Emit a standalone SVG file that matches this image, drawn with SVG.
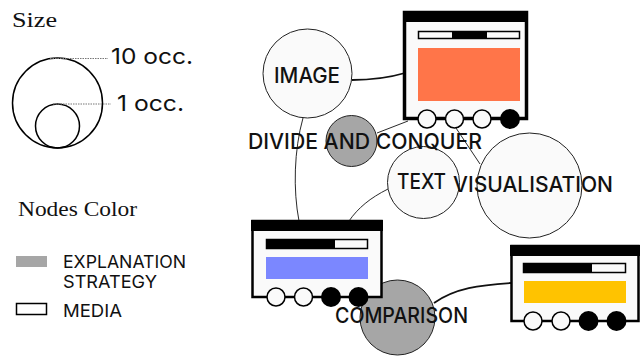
<svg xmlns="http://www.w3.org/2000/svg" width="640" height="356" viewBox="0 0 640 356">
<defs>
<style>
.serif{font-family:"Liberation Serif","DejaVu Serif",serif;fill:#111}
.sans{font-family:Inter,Roboto,"Liberation Sans",sans-serif;fill:#111}
.lbl{font-family:Inter,Roboto,"Liberation Sans",sans-serif;font-size:21px;font-weight:500;fill:#111;text-anchor:middle}
.node{fill:#fafafa;stroke:#222;stroke-width:1}
.strat{fill:#a6a6a6;stroke:#222;stroke-width:1}
.pw{fill:#fafafa;stroke:#000;stroke-width:1.5}
.db{fill:#000;stroke:#000;stroke-width:2}
.edge{fill:none;stroke:#111;stroke-width:0.9}
.edgeb{fill:none;stroke:#111;stroke-width:1.8}
.dot{stroke:#777;stroke-width:1;stroke-dasharray:1.5 1}
</style>
</defs>
<g id="legend">
<text class="serif" x="12" y="27" font-size="21" textLength="45" lengthAdjust="spacingAndGlyphs">Size</text>
<circle cx="57.5" cy="103" r="45" fill="none" stroke="#000" stroke-width="1.5"/>
<circle cx="57.5" cy="126" r="22" fill="none" stroke="#000" stroke-width="1.5"/>
<line class="dot" x1="50" y1="58.5" x2="108" y2="58.5"/>
<line class="dot" x1="53" y1="104" x2="111" y2="104"/>
<text class="sans" x="111" y="64" font-size="22" textLength="82" lengthAdjust="spacingAndGlyphs">10 occ.</text>
<text class="sans" x="117" y="111" font-size="22" textLength="67" lengthAdjust="spacingAndGlyphs">1 occ.</text>
<text class="serif" x="18" y="216" font-size="20" textLength="119" lengthAdjust="spacingAndGlyphs">Nodes Color</text>
<rect x="16" y="256" width="31" height="11" fill="#a6a6a6"/>
<text class="sans" x="63" y="268" font-size="17" textLength="123" lengthAdjust="spacingAndGlyphs">EXPLANATION</text>
<text class="sans" x="63" y="288" font-size="17" textLength="94" lengthAdjust="spacingAndGlyphs">STRATEGY</text>
<rect x="16.5" y="303.5" width="30" height="11" fill="#fff" stroke="#000" stroke-width="1.5"/>
<text class="sans" x="63" y="317" font-size="17" textLength="59" lengthAdjust="spacingAndGlyphs">MEDIA</text>
</g>
<g id="connectors">
<path class="edgeb" d="M352,80 C372,80 388,78 405,73"/>
<path class="edge" d="M303,118 C294,150 293,190 299,221"/>
<path class="edge" d="M377,133 L408,121"/>
<path class="edge" d="M456,128 L480,164"/>
<path class="edge" d="M388,189 C370,198 358,208 349,221"/>
<path class="edgeb" d="M434,303 C455,288 480,285 511,283"/>
</g>
<g id="node-image"><circle class="node" cx="307.5" cy="73.5" r="44.5"/></g>
<g id="node-divide"><circle class="strat" cx="351.5" cy="141" r="25.5"/></g>
<g id="node-text"><circle class="node" cx="423.5" cy="182.5" r="36"/></g>
<g id="node-visualisation"><circle class="node" cx="529.5" cy="185.5" r="52.5"/></g>
<g id="node-comparison"><circle class="strat" cx="397.5" cy="317.5" r="37.5"/></g>
<g id="media-orange">
<rect x="404.5" y="12.5" width="122" height="106" fill="#fafafa" stroke="#000" stroke-width="3.5"/>
<rect x="403" y="11" width="125" height="11" fill="#000"/>
<rect x="418.5" y="31.5" width="101" height="7" class="pw"/>
<rect x="452" y="31" width="35" height="8" fill="#000"/>
<rect x="418" y="48" width="102" height="53" fill="#ff7549"/>
<circle class="pw" cx="427" cy="119" r="9"/>
<circle class="pw" cx="454.5" cy="119" r="9"/>
<circle class="pw" cx="482" cy="119" r="9"/>
<circle class="db" cx="510" cy="119" r="9"/>
</g>
<g id="media-blue">
<rect x="252.5" y="221" width="129" height="76" fill="#fafafa" stroke="#000" stroke-width="2.5"/>
<rect x="251" y="220" width="132" height="11" fill="#000"/>
<rect x="266.5" y="239.5" width="101" height="9" class="pw"/>
<rect x="266" y="239" width="69" height="10" fill="#000"/>
<rect x="266" y="257" width="102" height="22" fill="#7b87ff"/>
<circle class="pw" cx="276" cy="297" r="9"/>
<circle class="pw" cx="303.5" cy="297" r="9"/>
<circle class="db" cx="331" cy="297" r="9"/>
<circle class="db" cx="358.5" cy="297" r="9"/>
</g>
<g id="media-yellow">
<rect x="511.5" y="246" width="127" height="75" fill="#fafafa" stroke="#000" stroke-width="2.5"/>
<rect x="510" y="245" width="130" height="11" fill="#000"/>
<rect x="523.5" y="263.5" width="102" height="9" class="pw"/>
<rect x="523" y="263" width="69" height="10" fill="#000"/>
<rect x="524" y="281" width="102" height="22" fill="#ffc300"/>
<circle class="pw" cx="533" cy="321" r="9"/>
<circle class="pw" cx="561" cy="321" r="9"/>
<circle class="db" cx="588.5" cy="321" r="9"/>
<circle class="db" cx="616.5" cy="321" r="9"/>
</g>
<g id="labels">
<text class="lbl" x="307" y="83" textLength="66" lengthAdjust="spacingAndGlyphs">IMAGE</text>
<text class="lbl" x="365" y="149" textLength="234" lengthAdjust="spacingAndGlyphs">DIVIDE AND CONQUER</text>
<text class="lbl" x="421.5" y="189" textLength="49" lengthAdjust="spacingAndGlyphs">TEXT</text>
<text class="lbl" x="533" y="192" textLength="160" lengthAdjust="spacingAndGlyphs">VISUALISATION</text>
<text class="lbl" x="401.5" y="323" textLength="133" lengthAdjust="spacingAndGlyphs">COMPARISON</text>
</g>
</svg>
